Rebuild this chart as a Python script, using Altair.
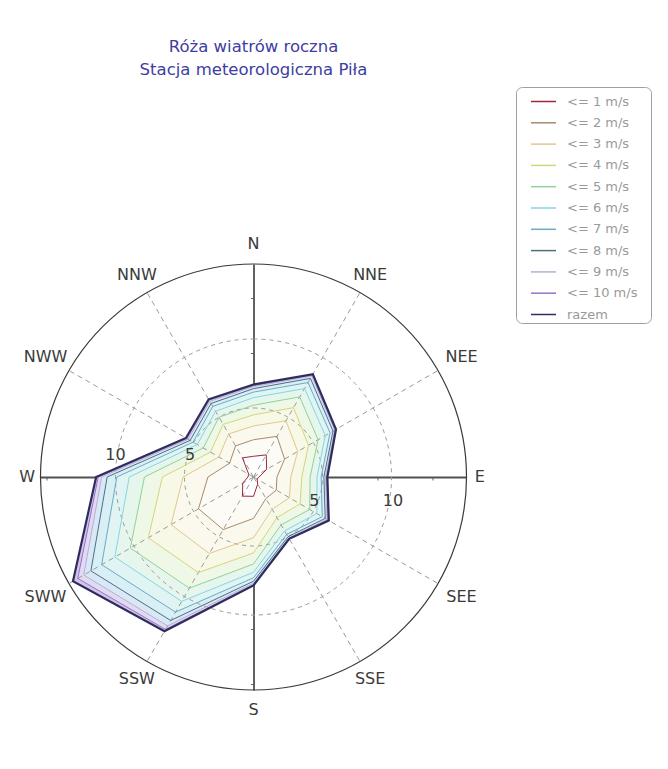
import altair as alt
import pandas as pd

# ---- data ----
directions = ["N", "NNE", "NEE", "E", "SEE", "SSE", "S", "SSW", "SWW", "W", "NWW", "NNW"]
angles = [0, 30, 60, 90, 120, 150, 180, 210, 240, 270, 300, 330]

series = ["<= 1 m/s", "<= 2 m/s", "<= 3 m/s", "<= 4 m/s", "<= 5 m/s", "<= 6 m/s",
          "<= 7 m/s", "<= 8 m/s", "<= 9 m/s", "<= 10 m/s", "razem"]

le1 = [1.5, 1.85, 1.1, 0.4, 0.3, 0.6, 1.4, 1.6, 0.9, 0.4, 0.4, 1.6]
le2 = [2.7, 3.4, 2.6, 1.7, 1.9, 1.8, 3.0, 4.4, 4.6, 3.3, 2.0, 2.6]
le3 = [3.7, 4.7, 3.7, 2.7, 3.0, 2.7, 4.4, 6.4, 6.9, 5.1, 2.9, 3.6]
le4 = [4.5, 5.8, 4.6, 3.5, 3.9, 3.4, 5.5, 8.0, 8.8, 6.6, 3.6, 4.4]
le5 = [5.2, 6.7, 5.4, 4.1, 4.7, 4.0, 6.3, 9.3, 10.3, 7.9, 4.2, 5.0]
le6 = [5.75, 7.4, 6.0, 4.6, 5.3, 4.5, 6.9, 10.4, 11.6, 9.0, 4.7, 5.5]
le7 = [6.15, 7.9, 6.4, 4.9, 5.75, 4.8, 7.3, 11.3, 12.7, 9.9, 5.05, 5.9]
le8 = [6.4, 8.25, 6.65, 5.1, 6.0, 5.0, 7.55, 12.0, 13.6, 10.6, 5.3, 6.15]
le9 = [6.55, 8.45, 6.78, 5.22, 6.15, 5.1, 7.7, 12.45, 14.2, 11.0, 5.47, 6.33]
le10 = [6.63, 8.54, 6.85, 5.3, 6.24, 5.14, 7.8, 12.75, 14.7, 11.25, 5.57, 6.43]
razem = [6.7, 8.6, 6.9, 5.35, 6.3, 5.17, 7.85, 12.9, 15.1, 11.4, 5.65, 6.5]

values = [le1, le2, le3, le4, le5, le6, le7, le8, le9, le10, razem]

ring_values = [5, 10]
west_labels = ["10", "5"]
west_pos = [-10, -4.6]
east_labels = ["5", "10"]
east_pos = [4.4, 10.1]
tick_values = list(range(-15, 16))

# ---- styles ----
line_colors = ["#9c2a3a", "#a88a6a", "#e0c88e", "#d3d67a", "#8fd39a", "#86d6e4",
               "#6fa9c4", "#4f6f80", "#b7b0cf", "#9b72c6", "#2d2d5e"]
fill_colors = ["#ffffff", "#fdfbf6", "#fbf8ee", "#f8f8e6", "#eff8e6", "#e6f6ec",
               "#dff4f3", "#d9eff6", "#d8e8f6", "#e0daf2", "#d3c4ec"]
R = 15.43
FONT = "DejaVu Sans"

rows = []
for s, vals in zip(series, values):
    for i in range(13):
        k = i % 12
        rows.append({"series": s, "idx": i, "angle": angles[k], "r": vals[k]})
df = pd.DataFrame(rows)
dir_df = pd.DataFrame({"dir": directions, "angle": angles})
ring_df = pd.DataFrame({"r": ring_values})
outer_df = pd.DataFrame({"r": [R]})
west_df = pd.DataFrame({"text": west_labels, "pos": west_pos})
east_df = pd.DataFrame({"text": east_labels, "pos": east_pos})
zero_df = pd.DataFrame({"z": [0]})

xs = alt.Scale(domain=[-R, R], nice=False, zero=False)
ys = alt.Scale(domain=[-R, R], nice=False, zero=False)
rs = alt.Scale(type="linear", domain=[0, R], range=[0, 213], zero=True)

polar = dict(x="datum.r*sin(datum.angle*PI/180)", y="datum.r*cos(datum.angle*PI/180)")

layers = []

# filled bands (outer to inner)
for s, fc in reversed(list(zip(series, fill_colors))):
    layers.append(
        alt.Chart(df).transform_filter(alt.datum.series == s)
        .transform_calculate(**polar)
        .mark_line(fill=fc, strokeOpacity=0)
        .encode(x=alt.X("x:Q", scale=xs, title=None), y=alt.Y("y:Q", scale=ys, title=None),
                order=alt.Order("idx:Q"))
    )

# dashed rings
layers.append(
    alt.Chart(ring_df).mark_arc(filled=False, stroke="#9a9a9a", strokeWidth=1,
                                strokeDash=[4, 4], theta=0, theta2=6.2832)
    .encode(radius=alt.Radius("r:Q", scale=rs, stack=False))
)
# outer circle
layers.append(
    alt.Chart(outer_df).mark_arc(filled=False, stroke="#3a3a3a", strokeWidth=1.2,
                                 theta=0, theta2=6.2832)
    .encode(radius=alt.Radius("r:Q", scale=rs, stack=False))
)
# dashed radial lines
layers.append(
    alt.Chart(dir_df).transform_filter("datum.angle % 90 != 0")
    .transform_calculate(x0="0", y0="0",
                         x1=f"{R}*sin(datum.angle*PI/180)", y1=f"{R}*cos(datum.angle*PI/180)")
    .mark_rule(color="#9a9a9a", strokeWidth=1, strokeDash=[5, 4])
    .encode(x=alt.X("x0:Q", scale=xs, title=None), y=alt.Y("y0:Q", scale=ys, title=None),
            x2="x1:Q", y2="y1:Q")
)
# cross axes through the centre (library axes with ticks)
layers.append(
    alt.Chart(zero_df).mark_point(opacity=0)
    .encode(
        x=alt.X("z:Q", scale=xs, title=None,
                axis=alt.Axis(orient="bottom", offset=-213, values=tick_values, labels=False,
                              grid=False, tickSize=3, tickColor="#666", domainColor="#505050",
                              domainWidth=1.8)),
        y=alt.Y("z:Q", scale=ys, title=None,
                axis=alt.Axis(orient="left", offset=-213, values=tick_values, labels=False,
                              grid=False, tickSize=3, tickColor="#666", domainColor="#505050",
                              domainWidth=1.8)),
    )
)
# series lines
layers.append(
    alt.Chart(df).transform_calculate(**polar)
    .mark_line()
    .encode(
        x=alt.X("x:Q", scale=xs, title=None),
        y=alt.Y("y:Q", scale=ys, title=None),
        order=alt.Order("idx:Q"),
        stroke=alt.Stroke("series:N", scale=alt.Scale(domain=series, range=line_colors),
                          sort=series,
                          legend=alt.Legend(
                              title=" ", titleOrient="right", titlePadding=13,
                              titleFontSize=13, titleFont=FONT,
                              orient="none", legendX=475.5, legendY=-177,
                              symbolType="stroke", symbolSize=625, symbolStrokeWidth=1.5,
                              labelFont=FONT, labelFontSize=13, labelColor="#9a9a9a",
                              labelOffset=10, rowPadding=0.3, padding=1, symbolOffset=13,
                              strokeColor="#a0a0a0", fillColor="#ffffff", cornerRadius=6)),
        strokeWidth=alt.condition("datum.series == 'razem'", alt.value(2.2), alt.value(1)),
    )
)
# direction labels
layers.append(
    alt.Chart(dir_df)
    .transform_calculate(
        lr="datum.angle % 180 == 90 ? 16.4 : (datum.angle % 180 == 60 || datum.angle % 180 == 120 ? 17.4 : 16.9)")
    .transform_calculate(lx="datum.lr*sin(datum.angle*PI/180)", ly="datum.lr*cos(datum.angle*PI/180)")
    .mark_text(font=FONT, fontSize=16, color="#3a3a3a", align="center", baseline="middle")
    .encode(x=alt.X("lx:Q", scale=xs, title=None), y=alt.Y("ly:Q", scale=ys, title=None),
            text="dir:N")
)
# ring labels on the W / E axis
layers.append(
    alt.Chart(west_df).transform_calculate(y0="0")
    .mark_text(font=FONT, fontSize=16, color="#3a3a3a", align="center", baseline="middle", dy=-22)
    .encode(x=alt.X("pos:Q", scale=xs, title=None), y=alt.Y("y0:Q", scale=ys, title=None),
            text="text:N")
)
layers.append(
    alt.Chart(east_df).transform_calculate(y0="0")
    .mark_text(font=FONT, fontSize=16, color="#3a3a3a", align="center", baseline="middle", dy=24)
    .encode(x=alt.X("pos:Q", scale=xs, title=None), y=alt.Y("y0:Q", scale=ys, title=None),
            text="text:N")
)

chart = alt.layer(*layers).properties(
    width=426, height=426,
    autosize=alt.AutoSizeParams(type="none"),
    padding={"left": 32.5, "top": 256, "right": 193.5, "bottom": 71},
    title=alt.TitleParams(["Róża wiatrów roczna", "Stacja meteorologiczna Piła"],
                          font=FONT, fontSize=16.5, fontWeight="normal", color="#3d3da3",
                          anchor="middle", frame="group", offset=8, lineHeight=23),
).configure_view(strokeWidth=0)

chart.save("out.html", embed_options={"renderer": "svg", "actions": False})
